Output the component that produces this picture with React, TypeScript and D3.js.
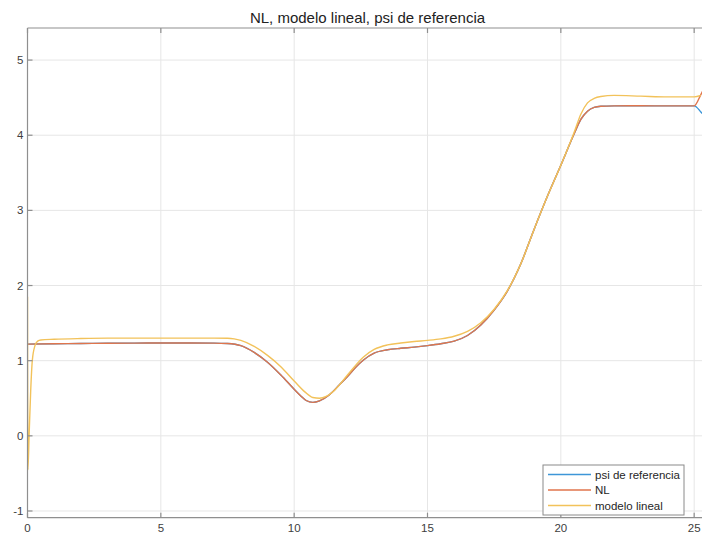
import React from "react";
import * as d3 from "d3";

// Simulated heading response (psi) over time [s]
const timeNL = [0, 1, 2, 3, 4, 5, 6, 7, 7.5, 8, 8.5, 9, 9.5, 10, 10.25, 10.45, 10.7, 10.95, 11.3, 11.7, 12, 12.3, 12.6, 13, 13.5, 14, 14.5, 15, 15.5, 16, 16.5, 17, 17.5, 18, 18.5, 19, 19.5, 20, 20.5, 20.75, 21, 21.25, 21.5, 22, 23, 24, 25, 25.25, 25.5];
const valuesNL = [1.22, 1.225, 1.228, 1.232, 1.234, 1.235, 1.235, 1.234, 1.228, 1.2, 1.11, 0.98, 0.81, 0.62, 0.53, 0.47, 0.445, 0.465, 0.54, 0.68, 0.79, 0.91, 1.01, 1.1, 1.145, 1.165, 1.18, 1.2, 1.225, 1.26, 1.335, 1.475, 1.675, 1.93, 2.29, 2.75, 3.19, 3.6, 4.02, 4.21, 4.32, 4.37, 4.385, 4.39, 4.392, 4.39, 4.39, 4.54, 4.72];
const valuesRef = [1.22, 1.225, 1.228, 1.232, 1.234, 1.235, 1.235, 1.234, 1.228, 1.2, 1.11, 0.98, 0.81, 0.62, 0.53, 0.47, 0.445, 0.465, 0.54, 0.68, 0.79, 0.91, 1.01, 1.1, 1.145, 1.165, 1.18, 1.2, 1.225, 1.26, 1.335, 1.475, 1.675, 1.93, 2.29, 2.75, 3.19, 3.6, 4.02, 4.21, 4.32, 4.37, 4.385, 4.39, 4.392, 4.39, 4.39, 4.31, 4.2];

const timeLin = [0, 0.015, 0.06, 0.12, 0.18, 0.28, 0.38, 0.5, 1, 2, 3, 4, 5, 6, 7, 7.5, 7.75, 8, 8.5, 9, 9.5, 10, 10.4, 10.7, 10.95, 11.2, 11.5, 12, 12.6, 13, 13.5, 14, 14.5, 15, 15.5, 16, 16.5, 17, 17.5, 18, 18.5, 19, 19.5, 20, 20.5, 20.75, 21, 21.25, 21.5, 22, 23, 24, 25, 25.25];
const valuesLin = [1.85, -0.45, 0.0, 0.6, 1.0, 1.2, 1.26, 1.275, 1.285, 1.295, 1.3, 1.3, 1.3, 1.3, 1.3, 1.298, 1.29, 1.27, 1.19, 1.07, 0.92, 0.73, 0.585, 0.51, 0.5, 0.525, 0.6, 0.81, 1.05, 1.15, 1.21, 1.235, 1.255, 1.27, 1.29, 1.325, 1.39, 1.505, 1.685, 1.935, 2.29, 2.75, 3.19, 3.6, 4.04, 4.28, 4.43, 4.49, 4.515, 4.53, 4.52, 4.51, 4.51, 4.53];

const xTicks = [0, 5, 10, 15, 20, 25];
const yTicks = [-1, 0, 1, 2, 3, 4, 5];
const seriesNames = ["psi de referencia", "NL", "modelo lineal"];
const seriesColors = ["#3D96D8", "#E0754C", "#F2C25A"];
const titleText = "NL, modelo lineal, psi de referencia";

const W = 702;
const H = 537;
const left = 27.5;
const top = 28;
const right = 707.5;
const bottom = 517.7;

export default function App() {
  const x = d3.scaleLinear().domain([0, 25.5]).range([left, right]);
  const y = d3.scaleLinear().domain([-1.0893, 5.4267]).range([bottom, top]);

  const mk = (ts: number[], vs: number[]) =>
    d3
      .line<number>()
      .x((_, i) => x(ts[i]))
      .y((v) => y(v))
      .curve(d3.curveMonotoneX)(vs) || "";

  const paths = [mk(timeNL, valuesRef), mk(timeNL, valuesNL), mk(timeLin, valuesLin)];

  const font = "'Liberation Sans', Arial, Helvetica, sans-serif";
  const axisColor = "#8f8f8f";
  const gridColor = "#e6e6e6";
  const tickLen = 5;

  const legX = 543;
  const legY = 465;
  const rowY = [474.5, 490, 505.5];

  return (
    <svg
      width={W}
      height={H}
      style={{ position: "absolute", left: 0, top: 0, background: "#fff" }}
      fontFamily={font}
    >
      <defs>
        <clipPath id="plotArea">
          <rect x={left} y={top} width={right - left} height={bottom - top} />
        </clipPath>
      </defs>
      <rect x={0} y={0} width={W} height={H} fill="#fff" />

      {/* grid */}
      {xTicks.map((t) => (
        <line key={"gx" + t} x1={x(t)} x2={x(t)} y1={top} y2={bottom} stroke={gridColor} strokeWidth={1} />
      ))}
      {yTicks.map((t) => (
        <line key={"gy" + t} x1={left} x2={right} y1={y(t)} y2={y(t)} stroke={gridColor} strokeWidth={1} />
      ))}

      {/* series */}
      <g clipPath="url(#plotArea)" fill="none" strokeWidth={1.4} strokeLinejoin="round">
        {paths.map((d, i) => (
          <path key={i} d={d} stroke={seriesColors[i]} />
        ))}
      </g>

      {/* axes box */}
      <g stroke={axisColor} strokeWidth={1.2} fill="none">
        <line x1={left} x2={left} y1={top} y2={bottom} />
        <line x1={left} x2={right} y1={bottom} y2={bottom} />
        <line x1={left} x2={right} y1={top} y2={top} />
        <line x1={right} x2={right} y1={top} y2={bottom} />
        {xTicks.map((t) => (
          <g key={"tx" + t}>
            <line x1={x(t)} x2={x(t)} y1={bottom} y2={bottom - tickLen} />
            <line x1={x(t)} x2={x(t)} y1={top} y2={top + tickLen} />
          </g>
        ))}
        {yTicks.map((t) => (
          <g key={"ty" + t}>
            <line x1={left} x2={left + tickLen} y1={y(t)} y2={y(t)} />
            <line x1={right} x2={right - tickLen} y1={y(t)} y2={y(t)} />
          </g>
        ))}
      </g>

      {/* tick labels */}
      <g fontSize={11.5} fill="#404040">
        {xTicks.map((t) => (
          <text key={"lx" + t} x={x(t)} y={bottom + 14} textAnchor="middle">
            {t}
          </text>
        ))}
        {yTicks.map((t) => (
          <text key={"ly" + t} x={left - 4} y={y(t) + 4} textAnchor="end">
            {t}
          </text>
        ))}
      </g>

      {/* title */}
      <text x={(left + right) / 2} y={23} textAnchor="middle" fontSize={15} fill="#222">
        {titleText}
      </text>

      {/* legend */}
      <g>
        <rect x={legX} y={legY} width={141} height={50} fill="#fff" stroke="#8a8a8a" strokeWidth={1} />
        {seriesNames.map((name, i) => (
          <g key={name}>
            <line x1={legX + 5} x2={legX + 48} y1={rowY[i]} y2={rowY[i]} stroke={seriesColors[i]} strokeWidth={1.5} />
            <text x={legX + 52} y={rowY[i] + 4} fontSize={11.5} fill="#262626">
              {name}
            </text>
          </g>
        ))}
      </g>
    </svg>
  );
}
